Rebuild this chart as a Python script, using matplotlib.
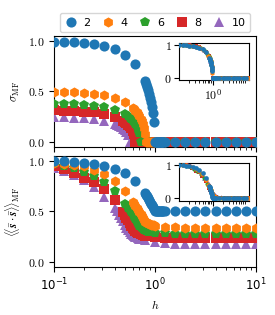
import matplotlib
matplotlib.use('Agg')
import matplotlib.pyplot as plt
from matplotlib.ticker import FuncFormatter, FixedLocator, NullFormatter

plt.rcParams['mathtext.fontset'] = 'cm'
plt.rcParams['font.size'] = 8

# ---------------- data ----------------
labels = ['2', '4', '6', '8', '10']
markers = ['o', 'h', 'p', 's', '^']
colors = ['C0', 'C1', 'C2', 'C3', 'C4']
h_crit = [1.0, 0.81, 0.72, 0.64, 0.56]

h_q2 = [0.1, 0.126, 0.158, 0.2, 0.251, 0.316, 0.398, 0.501, 0.631,
        0.80, 0.82, 0.84, 0.86, 0.88, 0.90, 0.92, 0.94, 0.96, 0.98, 1.00,
        1.02, 1.04, 1.06, 1.08, 1.10, 1.12, 1.14, 1.16, 1.18, 1.20,
        1.26, 1.58, 2.0, 2.51, 3.16, 3.98, 5.01, 6.31, 7.94, 10.0]
sig_q2 = [0.995, 0.992, 0.987, 0.98, 0.968, 0.949, 0.917, 0.865, 0.776,
          0.60, 0.572, 0.543, 0.51, 0.475, 0.436, 0.392, 0.341, 0.28, 0.199, 0.0,
          0.0, 0.0, 0.0, 0.0, 0.0, 0.0, 0.0, 0.0, 0.0, 0.0,
          0.0, 0.0, 0.0, 0.0, 0.0, 0.0, 0.0, 0.0, 0.0, 0.0]
ss_q2 = [0.995, 0.992, 0.987, 0.98, 0.968, 0.95, 0.921, 0.875, 0.80,
         0.68, 0.664, 0.647, 0.63, 0.613, 0.595, 0.577, 0.558, 0.539, 0.52, 0.5,
         0.5, 0.5, 0.5, 0.5, 0.5, 0.5, 0.5, 0.5, 0.5, 0.5,
         0.5, 0.5, 0.5, 0.5, 0.5, 0.5, 0.5, 0.5, 0.5, 0.5]

h_q4 = [0.1, 0.126, 0.158, 0.2, 0.251, 0.316, 0.398, 0.501,
        0.60, 0.62, 0.64, 0.66, 0.68, 0.70, 0.72, 0.74, 0.76, 0.78, 0.80,
        0.82, 0.84, 0.86, 0.88, 0.90, 0.92, 0.94, 0.96, 0.98, 1.00,
        1.26, 1.58, 2.0, 2.51, 3.16, 3.98, 5.01, 6.31, 7.94, 10.0]
sig_q4 = [0.496, 0.494, 0.490, 0.485, 0.475, 0.460, 0.436, 0.393,
          0.336, 0.322, 0.307, 0.290, 0.272, 0.252, 0.229, 0.203, 0.173, 0.135, 0.079,
          0.0, 0.0, 0.0, 0.0, 0.0, 0.0, 0.0, 0.0, 0.0, 0.0,
          0.0, 0.0, 0.0, 0.0, 0.0, 0.0, 0.0, 0.0, 0.0, 0.0]
ss_q4 = [0.978, 0.972, 0.962, 0.945, 0.908, 0.865, 0.80, 0.70,
         0.59, 0.57, 0.55, 0.53, 0.51, 0.49, 0.47, 0.45, 0.43, 0.415, 0.40,
         0.392, 0.386, 0.381, 0.377, 0.373, 0.37, 0.367, 0.364, 0.361, 0.358,
         0.35, 0.344, 0.34, 0.338, 0.337, 0.336, 0.336, 0.336, 0.336, 0.336]

h_q6 = [0.1, 0.126, 0.158, 0.2, 0.251, 0.316, 0.398, 0.501,
        0.54, 0.56, 0.58, 0.60, 0.62, 0.64, 0.66, 0.68, 0.70,
        0.72, 0.74, 0.76, 0.78, 0.80, 0.82, 0.84, 0.86, 0.88, 0.90,
        1.0, 1.26, 1.58, 2.0, 2.51, 3.16, 3.98, 5.01, 6.31, 7.94, 10.0]
sig_q6 = [0.376, 0.374, 0.371, 0.365, 0.356, 0.341, 0.317, 0.273,
          0.251, 0.239, 0.225, 0.210, 0.193, 0.174, 0.152, 0.125, 0.089,
          0.0, 0.0, 0.0, 0.0, 0.0, 0.0, 0.0, 0.0, 0.0, 0.0,
          0.0, 0.0, 0.0, 0.0, 0.0, 0.0, 0.0, 0.0, 0.0, 0.0, 0.0]
ss_q6 = [0.963, 0.952, 0.932, 0.89, 0.848, 0.785, 0.70, 0.57,
         0.53, 0.51, 0.49, 0.47, 0.445, 0.42, 0.40, 0.38, 0.36,
         0.345, 0.335, 0.327, 0.32, 0.314, 0.309, 0.305, 0.301, 0.298, 0.295,
         0.29, 0.283, 0.279, 0.277, 0.276, 0.275, 0.275, 0.275, 0.275, 0.275, 0.275]

h_q8 = [0.1, 0.126, 0.158, 0.2, 0.251, 0.316, 0.398,
        0.48, 0.50, 0.52, 0.54, 0.56, 0.58, 0.60, 0.62,
        0.64, 0.66, 0.68, 0.70, 0.72, 0.74, 0.76, 0.78, 0.80,
        1.0, 1.26, 1.58, 2.0, 2.51, 3.16, 3.98, 5.01, 6.31, 7.94, 10.0]
sig_q8 = [0.311, 0.309, 0.305, 0.299, 0.290, 0.274, 0.247,
          0.208, 0.197, 0.184, 0.169, 0.152, 0.133, 0.110, 0.078,
          0.0, 0.0, 0.0, 0.0, 0.0, 0.0, 0.0, 0.0, 0.0,
          0.0, 0.0, 0.0, 0.0, 0.0, 0.0, 0.0, 0.0, 0.0, 0.0, 0.0]
ss_q8 = [0.945, 0.92, 0.88, 0.83, 0.79, 0.72, 0.61,
         0.49, 0.465, 0.435, 0.41, 0.385, 0.36, 0.34, 0.322,
         0.308, 0.297, 0.289, 0.282, 0.277, 0.272, 0.268, 0.264, 0.261,
         0.245, 0.24, 0.237, 0.236, 0.235, 0.235, 0.235, 0.235, 0.235, 0.235, 0.235]

h_q10 = [0.1, 0.126, 0.158, 0.2, 0.251, 0.316, 0.398,
         0.42, 0.44, 0.46, 0.48, 0.50, 0.52, 0.54,
         0.56, 0.58, 0.60, 0.62, 0.64, 0.66, 0.68, 0.70,
         0.794, 1.0, 1.26, 1.58, 2.0, 2.51, 3.16, 3.98, 5.01, 6.31, 7.94, 10.0]
sig_q10 = [0.246, 0.244, 0.240, 0.233, 0.223, 0.206, 0.176,
           0.165, 0.155, 0.143, 0.129, 0.113, 0.093, 0.066,
           0.0, 0.0, 0.0, 0.0, 0.0, 0.0, 0.0, 0.0,
           0.0, 0.0, 0.0, 0.0, 0.0, 0.0, 0.0, 0.0, 0.0, 0.0, 0.0, 0.0]
ss_q10 = [0.925, 0.90, 0.86, 0.81, 0.74, 0.645, 0.53,
          0.50, 0.465, 0.435, 0.405, 0.37, 0.34, 0.315,
          0.295, 0.28, 0.268, 0.258, 0.25, 0.244, 0.238, 0.232,
          0.215, 0.197, 0.188, 0.183, 0.18, 0.178, 0.177, 0.176, 0.176, 0.176, 0.176, 0.176]

h_all = [h_q2, h_q4, h_q6, h_q8, h_q10]
sig_all = [sig_q2, sig_q4, sig_q6, sig_q8, sig_q10]
ss_all = [ss_q2, ss_q4, ss_q6, ss_q8, ss_q10]

# ---------------- figure ----------------
fig = plt.figure(figsize=(2.75, 3.15), dpi=100)
ax1 = fig.add_axes([0.1964, 0.5343, 0.7345, 0.3514])
ax2 = fig.add_axes([0.1964, 0.152, 0.7345, 0.354])
in1 = fig.add_axes([0.652, 0.746, 0.2545, 0.118])
in2 = fig.add_axes([0.652, 0.363, 0.2545, 0.12])

handles = []
for i in range(5):
    h = h_all[i]
    s = sig_all[i]
    ss = ss_all[i]
    kw = dict(ls='none', marker=markers[i], color=colors[i], mew=0, zorder=10 - i)
    ln, = ax1.plot(h, s, ms=7.3, label=labels[i], **kw)
    ax2.plot(h, ss, ms=7.3, **kw)
    handles.append(ln)
    hn = [x / h_crit[i] for x in h]
    in1.plot(hn, [v / s[0] for v in s], ms=3.4, **kw)
    in2.plot(hn, [(v - ss[-1]) / (ss[0] - ss[-1]) for v in ss], ms=3.4, **kw)

yfmt = FuncFormatter(lambda v, p: r'$%.1f$' % v)
for ax in (ax1, ax2):
    ax.set_xscale('log')
    ax.set_xlim(0.1, 10)
    ax.set_ylim(-0.05, 1.05)
    ax.set_yticks([0, 0.5, 1.0])
    ax.yaxis.set_major_formatter(yfmt)
    ax.tick_params(labelsize=8.5)
ax1.tick_params(labelbottom=False)

for ax in (in1, in2):
    ax.set_xscale('log')
    ax.set_xlim(0.1, 12.5)
    ax.set_ylim(-0.07, 1.07)
    ax.set_yticks([0, 1])
    ax.set_yticklabels([r'$0$', r'$1$'])
    ax.xaxis.set_major_locator(FixedLocator([1.0]))
    ax.tick_params(labelsize=8.5, pad=2)
in1.set_xticklabels([r'$10^{0}$'])
in2.xaxis.set_major_formatter(NullFormatter())
in2.xaxis.set_minor_formatter(NullFormatter())
in1.xaxis.set_minor_formatter(NullFormatter())

ax1.set_ylabel(r'$\sigma_{\rm MF}$', fontsize=8.5)
ax2.set_ylabel(r'$\langle\!\langle \bar{\boldsymbol{s}}\cdot\bar{\boldsymbol{s}}\rangle\!\rangle_{\rm MF}$', fontsize=8.5)
ax2.set_xlabel(r'$h$', fontsize=8.5)

ax1.legend(handles, labels, loc='lower center', bbox_to_anchor=(0.5, 1.035), ncol=5,
           handlelength=1.2, handletextpad=0.5, columnspacing=1.0, fontsize=8,
           borderaxespad=0)

fig.savefig('out.png', dpi=100)
